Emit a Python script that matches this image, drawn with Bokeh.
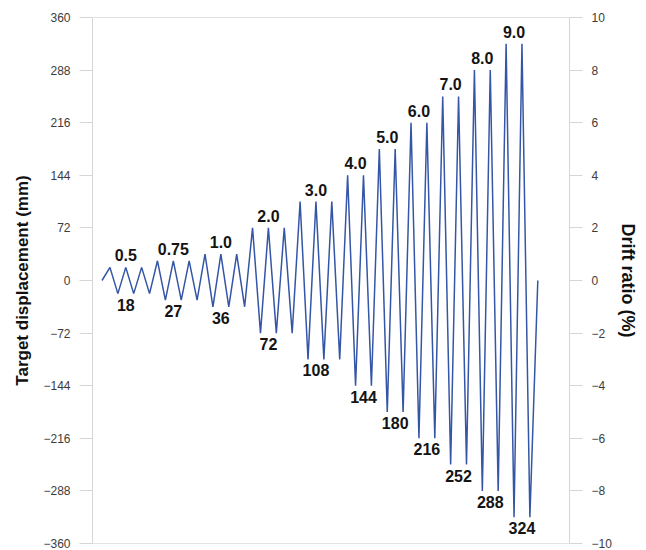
from bokeh.plotting import figure
from bokeh.models import Range1d, LinearAxis, FixedTicker, ColumnDataSource
from bokeh.core.properties import value
from bokeh.embed import file_html
from bokeh.resources import INLINE

# Loading protocol: drift ratio levels (%), target amplitudes (mm) and cycles per level
drift_levels = ["0.5", "0.75", "1.0", "2.0", "3.0", "4.0", "5.0", "6.0", "7.0", "8.0", "9.0"]
amplitude_mm = [18, 27, 36, 72, 108, 144, 180, 216, 252, 288, 324]
cycles_per_level = [3, 3, 3, 3, 3, 2, 2, 2, 2, 2, 2]

# Axis ticks
disp_ticks = [-360, -288, -216, -144, -72, 0, 72, 144, 216, 288, 360]
drift_ticks = [-10, -8, -6, -4, -2, 0, 2, 4, 6, 8, 10]

# Build the displacement history: each cycle is a push to +amp then a pull to -amp
disp = [0]
top_x, top_y, top_txt = [], [], []
bot_x, bot_y, bot_txt = [], [], []
for lvl, amp, n in zip(drift_levels, amplitude_mm, cycles_per_level):
    peaks = []
    for _ in range(n):
        disp.append(amp)
        peaks.append(len(disp) - 1)
        disp.append(-amp)
    mid = sum(peaks) / len(peaks)
    top_x.append(mid)
    top_y.append(amp)
    top_txt.append(lvl)
    bot_x.append(mid + (1 if n == 2 else 0))
    bot_y.append(-amp)
    bot_txt.append(str(amp))
disp.append(0)
step = list(range(len(disp)))

FONT = "Liberation Sans"

p = figure(width=646, height=550, output_backend="svg", toolbar_location=None,
           x_range=Range1d(-1.2, 59), y_range=Range1d(-360, 360),
           x_axis_location=None, y_axis_location="left")
p.min_border_left = 92
p.min_border_right = 77
p.min_border_top = 17
p.min_border_bottom = 7
p.background_fill_color = "white"
p.border_fill_color = "white"
p.outline_line_color = "#e3e3e3"
p.xgrid.visible = False
p.ygrid.visible = False

p.line(step, disp, line_color="#3556a6", line_width=1.5)

top_src = ColumnDataSource(dict(x=top_x, y=top_y, t=top_txt))
bot_src = ColumnDataSource(dict(x=bot_x, y=bot_y, t=bot_txt))
p.text(x="x", y="y", text="t", source=top_src, text_align="center",
       text_baseline="alphabetic", y_offset=-12, text_font=value(FONT),
       text_font_style="bold", text_font_size="16px", text_color="#141414")
p.text(x="x", y="y", text="t", source=bot_src, text_align="center",
       text_baseline="alphabetic", y_offset=11, text_font=value(FONT),
       text_font_style="bold", text_font_size="16px", text_color="#141414")

def style_axis(ax, title, size, standoff):
    ax.axis_label = title
    ax.axis_label_text_font = FONT
    ax.axis_label_text_font_style = "bold"
    ax.axis_label_text_font_size = size
    ax.axis_label_text_color = "#111111"
    ax.axis_label_standoff = standoff
    ax.axis_line_color = "#d6d6d6"
    ax.major_tick_line_color = "#d6d6d6"
    ax.major_tick_out = 13
    ax.major_tick_in = 0
    ax.minor_tick_line_color = None
    ax.major_label_standoff = 9
    ax.major_label_text_font = FONT
    ax.major_label_text_font_size = "12px"
    ax.major_label_text_color = "#3c3c3c"

left = p.yaxis[0]
left.ticker = FixedTicker(ticks=disp_ticks)
style_axis(left, "Target displacement (mm)", "17px", 8)

p.extra_y_ranges = {"drift": Range1d(-10, 10)}
right = LinearAxis(y_range_name="drift", ticker=FixedTicker(ticks=drift_ticks))
style_axis(right, "Drift ratio (%)", "18px", 3)
p.add_layout(right, "right")

open("out.html", "w").write(file_html(p, INLINE))
